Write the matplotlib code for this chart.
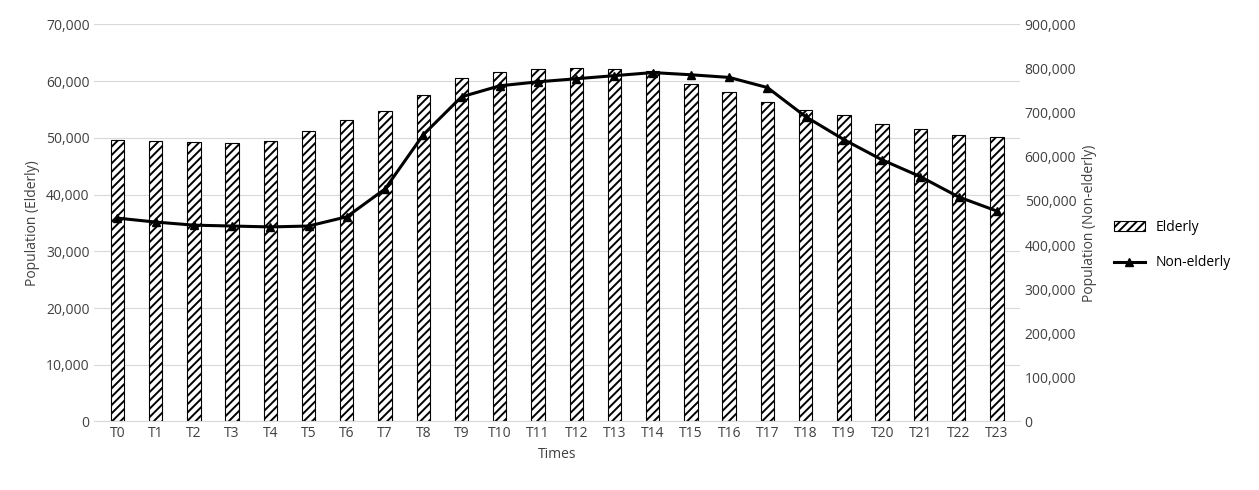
import matplotlib
matplotlib.use("Agg")
import matplotlib.pyplot as plt
from matplotlib.ticker import FuncFormatter

times = [f"T{i}" for i in range(24)]
elderly = [49700, 49500, 49300, 49100, 49400, 51300, 53100, 54700, 57500, 60500,
           61700, 62100, 62300, 62100, 61800, 59500, 58100, 56300, 55000, 54100,
           52500, 51500, 50500, 50100]
non_elderly = [461000, 452000, 445000, 443000, 441000, 443000, 464000, 527000, 650000, 736000,
               761000, 770000, 777000, 784000, 791000, 786000, 780000, 757000, 691000, 639000,
               593000, 555000, 509000, 477000]

plt.rcParams["font.family"] = ["Open Sans", "DejaVu Sans"]
plt.rcParams["hatch.linewidth"] = 1.4

fig, ax = plt.subplots(figsize=(12.59, 4.9), dpi=100)
fig.subplots_adjust(left=0.075, right=0.81, top=0.95, bottom=0.14)

x = list(range(len(times)))
ax.bar(x, elderly, width=0.35, facecolor="white", edgecolor="black", hatch="////",
       linewidth=0.8, label="Elderly", zorder=2)
ax.set_ylim(0, 70000)
ax.set_yticks(range(0, 70001, 10000))
ax.set_xlim(-0.6, 23.6)
ax.set_xticks(x)
ax.set_xticklabels(times)
ax.yaxis.set_major_formatter(FuncFormatter(lambda v, p: f"{int(v):,}"))
ax.grid(axis="y", color="#d9d9d9", linewidth=0.8, zorder=0)
ax.set_axisbelow(True)
ax.set_ylabel("Population (Elderly)", fontsize=10, color="#404040")
ax.set_xlabel("Times", fontsize=10, color="#404040")

ax2 = ax.twinx()
ax2.plot(x, non_elderly, color="black", linewidth=2.2, marker="^", markersize=6,
         label="Non-elderly", zorder=3)
ax2.set_ylim(0, 900000)
ax2.set_yticks(range(0, 900001, 100000))
ax2.yaxis.set_major_formatter(FuncFormatter(lambda v, p: f"{int(v):,}"))
ax2.set_ylabel("Population (Non-elderly)", fontsize=10, color="#404040")

for a in (ax, ax2):
    for s in a.spines.values():
        s.set_visible(False)
    a.tick_params(length=0, labelsize=10, colors="#404040")
ax.spines["bottom"].set_visible(True)
ax.spines["bottom"].set_color("#d9d9d9")

h1, l1 = ax.get_legend_handles_labels()
h2, l2 = ax2.get_legend_handles_labels()
fig.legend(h1 + h2, l1 + l2, loc="center left", bbox_to_anchor=(0.875, 0.5),
           frameon=False, fontsize=10, handlelength=2.2, labelspacing=1.5)

fig.savefig("out.png")
